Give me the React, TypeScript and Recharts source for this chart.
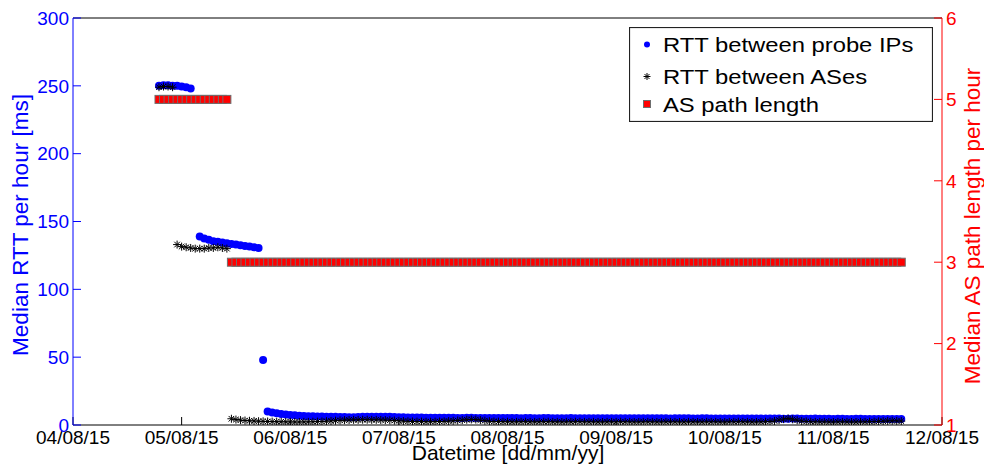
import { ComposedChart, Legend, Scatter, XAxis, YAxis } from "recharts";

const BLUE = "#0000ff";
const RED = "#ff0000";
const FONT = '"Liberation Sans", Arial, Helvetica, sans-serif';

// x axis: hours since 04/08/15 00:00, one tick per day
const dateLabels = ["04/08/15", "05/08/15", "06/08/15", "07/08/15", "08/08/15", "09/08/15", "10/08/15", "11/08/15", "12/08/15"];
const rttTicks = [0, 50, 100, 150, 200, 250, 300];
const pathTicks = [1, 2, 3, 4, 5, 6];

// hourly medians, first value at hour 19 of 04/08; null = no sample that hour
const probeStartHour = 19;
const probeRtt: (number | null)[] = [
  250, 250.5, 250.5, 250, 250, 249.5, 249, 248, null,
  139, 137.5, 136.5, 135.5, 135, 134.5, 134, 133.5, 133, 132.5, 132, 131.5, 131, 130.5,
  48,
  10, 9.2, 8.6, 8.1, 7.7, 7.4, 7.1, 6.9, 6.7, 6.5, 6.4, 6.3, 6.2, 6.1, 6, 6, 5.9, 5.9, 5.8, 5.8,
  5.9, 6, 6, 6.1, 6.1, 6.1, 6, 6, 5.9, 5.8, 5.7, 5.6, 5.6, 5.5, 5.5, 5.4, 5.4, 5.4,
  5.4, 5.3, 5.3, 5.3, 5.2, 5.2, 5.3, 5.3, 5.2, 5.2, 5.2, 5.1, 5.1, 5.2, 5.2, 5.1, 5.1, 5.1, 5.0, 5.1,
  5.1, 5.0, 5.0, 5.1, 5.1, 5.0, 5.0, 5.0, 5.0, 5.1, 5.0, 5.0, 4.9, 5.0, 5.0, 5.0, 4.9, 4.9, 5.0, 5.0,
  4.9, 4.9, 5.0, 4.9, 4.9, 4.9, 5.0, 5.0, 4.9, 4.9, 4.9, 4.8, 4.9, 4.9, 4.9, 4.9, 4.8, 4.8, 4.9, 4.9,
  4.8, 4.8, 4.8, 4.8, 4.7, 4.7, 4.7, 4.8, 4.8, 4.7, 4.7, 4.7, 4.7, 4.8, 4.7, 4.7, 4.6, 4.6, 4.7, 4.7,
  4.6, 4.6, 4.6, 4.7, 4.6, 4.6, 4.6, 4.5, 4.6, 4.6, 4.5, 4.5, 4.6, 4.6, 4.5, 4.5, 4.5, 4.5, 4.4, 4.5, 4.4, 4.4, 4.4,
];

const asStartHour = 19;
const asRtt: (number | null)[] = [
  249, 249.5, 249.5, 249,
  133, 131.5, 131, 130.5, 130, 130, 130, 130.5, 130.5, 131, 130.5, 130,
  4.6, 4.0, 3.6, 3.3, 3.1, 3.0, 2.8, 2.7, 2.6, 2.5, 2.4, 2.4, 2.3, 2.3, 2.2, 2.2, 2.3, 2.3, 2.4, 2.5,
  2.6, 2.8, 3.0, 3.2, 3.4, 3.6, 3.7, 3.8, 3.8, 3.9, 3.9, 3.8, 3.8, 3.7, 3.6, 3.5, 3.3, 3.1, 2.9, 2.7,
  2.6, 2.5, 2.5, 2.4, 2.4, 2.5, 2.6, 2.7, 2.9, 3.1, 3.3, 3.6, 3.9, 4.1, 4.0, 3.6, 3.2, 2.8, 2.6, 2.5,
  2.4, 2.4, 2.3, 2.3, 2.4, 2.4, 2.3, 2.3, 2.3, 2.4, 2.4, 2.3, 2.3, 2.2, 2.3, 2.3, 2.4, 2.4, 2.3, 2.3,
  2.3, 2.2, 2.2, 2.3, 2.3, 2.3, 2.4, 2.3, 2.3, 2.2, 2.2, 2.3, 2.3, 2.3, 2.2, 2.2, 2.3, 2.3, 2.3, 2.2,
  2.2, 2.3, 2.3, 2.2, 2.2, 2.3, 2.3, 2.3, 2.2, 2.2, 2.3, 2.3, 2.4, 2.3, 2.3, 2.2, 2.2, 2.3, 2.4, 2.6,
  3.0, 3.6, 4.3, 4.8, 4.2, 3.5, 2.9, 2.6, 2.4, 2.3, 2.3, 2.3, 2.2, 2.2, 2.3, 2.3, 2.3, 2.2, 2.2, 2.3,
  2.3, 2.4, 2.5, 2.7, 2.8, 3.0, 3.1, 3.0, 2.9,
];

// AS hops: 5 until hour 34, then 3 (rows of 25)
const pathStartHour = 19;
const asPathLength: (number | null)[] = [
  5, 5, 5, 5, 5, 5, 5, 5, 5, 5, 5, 5, 5, 5, 5, 5,
  3, 3, 3, 3, 3, 3, 3, 3, 3, 3, 3, 3, 3, 3, 3, 3, 3, 3, 3, 3, 3, 3, 3, 3, 3,
  3, 3, 3, 3, 3, 3, 3, 3, 3, 3, 3, 3, 3, 3, 3, 3, 3, 3, 3, 3, 3, 3, 3, 3, 3,
  3, 3, 3, 3, 3, 3, 3, 3, 3, 3, 3, 3, 3, 3, 3, 3, 3, 3, 3, 3, 3, 3, 3, 3, 3,
  3, 3, 3, 3, 3, 3, 3, 3, 3, 3, 3, 3, 3, 3, 3, 3, 3, 3, 3, 3, 3, 3, 3, 3, 3,
  3, 3, 3, 3, 3, 3, 3, 3, 3, 3, 3, 3, 3, 3, 3, 3, 3, 3, 3, 3, 3, 3, 3, 3, 3,
  3, 3, 3, 3, 3, 3, 3, 3, 3, 3, 3, 3, 3, 3, 3, 3, 3, 3, 3, 3, 3, 3, 3, 3,
];

const toPoints = (start: number, values: (number | null)[]) =>
  values.flatMap((v, i) => (v == null ? [] : [{ x: start + i, y: v }]));

const probePoints = toPoints(probeStartHour, probeRtt);
const asPoints = toPoints(asStartHour, asRtt);
const pathPoints = toPoints(pathStartHour, asPathLength);
const dayTicks = dateLabels.map((_, i) => i * 24);

const Dot = ({ cx, cy, r = 4 }: any) => <circle cx={cx} cy={cy} r={r} fill={BLUE} />;

const Asterisk = ({ cx, cy, s = 4 }: any) => {
  const d = s * 0.7;
  return (
    <g stroke="#000" strokeWidth={1}>
      <line x1={cx - s} y1={cy} x2={cx + s} y2={cy} />
      <line x1={cx} y1={cy - s} x2={cx} y2={cy + s} />
      <line x1={cx - d} y1={cy - d} x2={cx + d} y2={cy + d} />
      <line x1={cx - d} y1={cy + d} x2={cx + d} y2={cy - d} />
    </g>
  );
};

const Square = ({ cx, cy, s = 8 }: any) => (
  <rect x={cx - s / 2} y={cy - s / 2} width={s} height={s} fill={RED} stroke="#6e6e6e" strokeWidth={1} />
);

function LegendBox() {
  const rows = [
    { name: "RTT between probe IPs", marker: <Dot cx={18} cy={17.5} r={3} />, y: 25 },
    { name: "RTT between ASes", marker: <Asterisk cx={18} cy={49.5} s={3.5} />, y: 56.5 },
    { name: "AS path length", marker: <Square cx={18} cy={77} s={7} />, y: 85 },
  ];
  return (
    <svg width={304} height={95} style={{ display: "block" }}>
      <rect x={0.5} y={0.5} width={303} height={94} fill="#fff" stroke="#222" strokeWidth={1.2} />
      {rows.map((r) => (
        <g key={r.name}>
          {r.marker}
          <g transform={`translate(34 ${r.y}) scale(1.19 1)`}>
            <text x={0} y={0} fontFamily={FONT} fontSize={20} fill="#000">
              {r.name}
            </text>
          </g>
        </g>
      ))}
    </svg>
  );
}

const leftTitle = () => (
  <text x={28} y={225} transform="rotate(-90 28 225)" textAnchor="middle" fontFamily={FONT} fontSize={22.5} fill={BLUE}>
    Median RTT per hour [ms]
  </text>
);

const rightTitle = () => (
  <text x={980} y={226} transform="rotate(-90 980 226)" textAnchor="middle" fontFamily={FONT} fontSize={22.5} fill={RED}>
    Median AS path length per hour
  </text>
);

const bottomTitle = () => (
  <text x={508} y={460} textAnchor="middle" fontFamily={FONT} fontSize={21} fill="#000">
    Datetime [dd/mm/yy]
  </text>
);

export default function App() {
  return (
    <div style={{ position: "absolute", left: 0, top: 0, width: 984, height: 475, background: "#fff" }}>
      <ComposedChart width={984} height={475} margin={{ top: 17, right: 40, bottom: 49, left: 72 }}>
        <XAxis
          xAxisId="date"
          dataKey="x"
          type="number"
          domain={[0, 192]}
          ticks={dayTicks}
          interval={0}
          allowDataOverflow
          height={1}
          tickSize={-8}
          tickMargin={14}
          stroke="#000"
          tick={{ fill: "#000", fontSize: 19, fontFamily: FONT }}
          tickFormatter={(v: number) => dateLabels[Math.round(v / 24)]}
          label={bottomTitle}
        />
        <XAxis
          xAxisId="top"
          orientation="top"
          type="number"
          domain={[0, 192]}
          ticks={dayTicks}
          interval={0}
          allowDataOverflow
          height={1}
          tickSize={-8}
          tick={false}
          stroke="#000"
        />
        <YAxis
          yAxisId="rtt"
          type="number"
          domain={[0, 300]}
          ticks={rttTicks}
          interval={0}
          allowDataOverflow
          width={1}
          tickSize={-8}
          tickMargin={12}
          stroke={BLUE}
          tick={{ fill: BLUE, fontSize: 19, fontFamily: FONT }}
          label={leftTitle}
        />
        <YAxis
          yAxisId="path"
          orientation="right"
          type="number"
          domain={[1, 6]}
          ticks={pathTicks}
          interval={0}
          allowDataOverflow
          width={1}
          tickSize={-8}
          tickMargin={12}
          stroke={RED}
          tick={{ fill: RED, fontSize: 19, fontFamily: FONT }}
          label={rightTitle}
        />
        <YAxis
          yAxisId="rttRight"
          orientation="right"
          type="number"
          domain={[0, 300]}
          ticks={rttTicks.slice(1, -1)}
          interval={0}
          allowDataOverflow
          width={1}
          tickSize={-8}
          tick={false}
          axisLine={false}
          stroke={BLUE}
        />
        <Legend
          layout="vertical"
          align="center"
          verticalAlign="middle"
          wrapperStyle={{ left: 629, top: 27, width: 304, height: 95 }}
          content={() => <LegendBox />}
        />
        <Scatter
          name="RTT between probe IPs"
          data={probePoints}
          dataKey="y"
          xAxisId="date"
          yAxisId="rtt"
          shape={(p: any) => <Dot cx={p.cx} cy={p.cy} />}
          isAnimationActive={false}
        />
        <Scatter
          name="RTT between ASes"
          data={asPoints}
          dataKey="y"
          xAxisId="date"
          yAxisId="rtt"
          shape={(p: any) => <Asterisk cx={p.cx} cy={p.cy} />}
          isAnimationActive={false}
        />
        <Scatter
          name="AS path length"
          data={pathPoints}
          dataKey="y"
          xAxisId="date"
          yAxisId="path"
          shape={(p: any) => <Square cx={p.cx} cy={p.cy} />}
          isAnimationActive={false}
        />
      </ComposedChart>
    </div>
  );
}
